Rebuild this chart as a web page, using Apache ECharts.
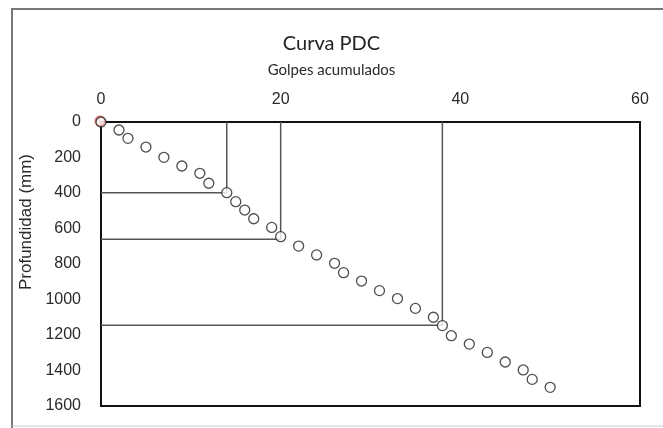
<!DOCTYPE html>
<html lang="es">
<head>
    <meta charset="UTF-8">
    <title>Curva PDC</title>
    <style>
        html, body { margin: 0; padding: 0; background: #fff; }
        #main { width: 663px; height: 428px; }
    </style>
    <script src="https://cdn.jsdelivr.net/npm/echarts@6/dist/echarts.min.js"></script>
</head>
<body>
    <div id="main"></div>
    <script>
        // golpes acumulados / profundidad (mm)
        var golpes = [0, 2, 3, 5, 7, 9, 11, 12, 14, 15, 16, 17, 19, 20, 22, 24, 26, 27, 29, 31, 33, 35, 37, 38, 39, 41, 43, 45, 47, 48, 50];
        var profundidad = [0, 45, 92, 141, 199, 248, 289, 345, 398, 449, 496, 545, 594, 646, 699, 749, 796, 849, 896, 950, 995, 1050, 1100, 1147, 1204, 1251, 1298, 1352, 1397, 1450, 1495];
        // lineas de cambio de capa
        var capaGolpes = [14, 20, 38];
        var capaProf = [398, 660, 1145];
        var xTicks = [0, 20, 40, 60];
        var yTicks = [0, 200, 400, 600, 800, 1000, 1200, 1400, 1600];

        var chart = echarts.init(document.getElementById('main'));

        var puntos = golpes.map(function (g, i) { return [g, profundidad[i]]; });

        var capas = capaGolpes.map(function (g, i) {
            return {
                type: 'line',
                data: [[g, 0], [g, capaProf[i]], [0, capaProf[i]]],
                symbol: 'none',
                silent: true,
                z: 1,
                lineStyle: { color: '#555', width: 1.5 },
                animation: false
            };
        });

        var labelFont = {
            color: '#2a2a2a',
            fontSize: 16,
            fontFamily: 'Liberation Sans, Arial, sans-serif',
            formatter: function (v) { return String(v); }
        };

        var option = {
            animation: false,
            graphic: [{
                type: 'polyline',
                shape: { points: [[12, 428], [12, 9], [663, 9]] },
                style: { stroke: '#777', lineWidth: 2, fill: null }
            }, {
                type: 'line',
                shape: { x1: 12, y1: 426, x2: 663, y2: 426 },
                style: { stroke: '#ccc', lineWidth: 1 }
            }],
            title: {
                text: 'Curva PDC',
                subtext: 'Golpes acumulados',
                left: 'center',
                top: 29,
                itemGap: 9,
                textStyle: {
                    color: '#222',
                    fontSize: 20,
                    fontWeight: 'normal',
                    fontFamily: 'Lato, Open Sans, sans-serif'
                },
                subtextStyle: {
                    color: '#2a2a2a',
                    fontSize: 15,
                    fontFamily: 'Lato, Open Sans, sans-serif'
                }
            },
            grid: {
                left: 101,
                right: 23,
                top: 122,
                bottom: 22,
                show: true,
                borderColor: '#111',
                borderWidth: 2,
                backgroundColor: '#fff'
            },
            xAxis: {
                type: 'value',
                position: 'top',
                min: xTicks[0],
                max: xTicks[xTicks.length - 1],
                interval: 20,
                axisLine: { show: true, lineStyle: { color: '#111', width: 2 } },
                axisTick: { show: false },
                splitLine: { show: false },
                axisLabel: Object.assign({ margin: 14 }, labelFont)
            },
            yAxis: {
                type: 'value',
                inverse: true,
                min: yTicks[0],
                max: yTicks[yTicks.length - 1],
                interval: 200,
                name: 'Profundidad (mm)',
                nameLocation: 'middle',
                nameGap: 54,
                nameTextStyle: {
                    color: '#2a2a2a',
                    fontSize: 17,
                    fontFamily: 'Liberation Sans, Arial, sans-serif',
                    padding: [0, 0, 0, 84]
                },
                axisLine: { show: true, lineStyle: { color: '#111', width: 2 } },
                axisTick: { show: false },
                splitLine: { show: false },
                axisLabel: Object.assign({ margin: 20 }, labelFont)
            },
            series: capas.concat([{
                type: 'scatter',
                data: puntos.map(function (p, i) {
                    if (i === 0) {
                        return {
                            value: p,
                            itemStyle: { shadowColor: 'rgba(224,80,80,0.7)', shadowOffsetX: -1, shadowOffsetY: -1, shadowBlur: 0 }
                        };
                    }
                    return p;
                }),
                symbol: 'circle',
                symbolSize: 10,
                z: 3,
                clip: false,
                itemStyle: { color: '#fff', borderColor: '#222', borderWidth: 1.3 }
            }])
        };

        chart.setOption(option);
    </script>
</body>
</html>
